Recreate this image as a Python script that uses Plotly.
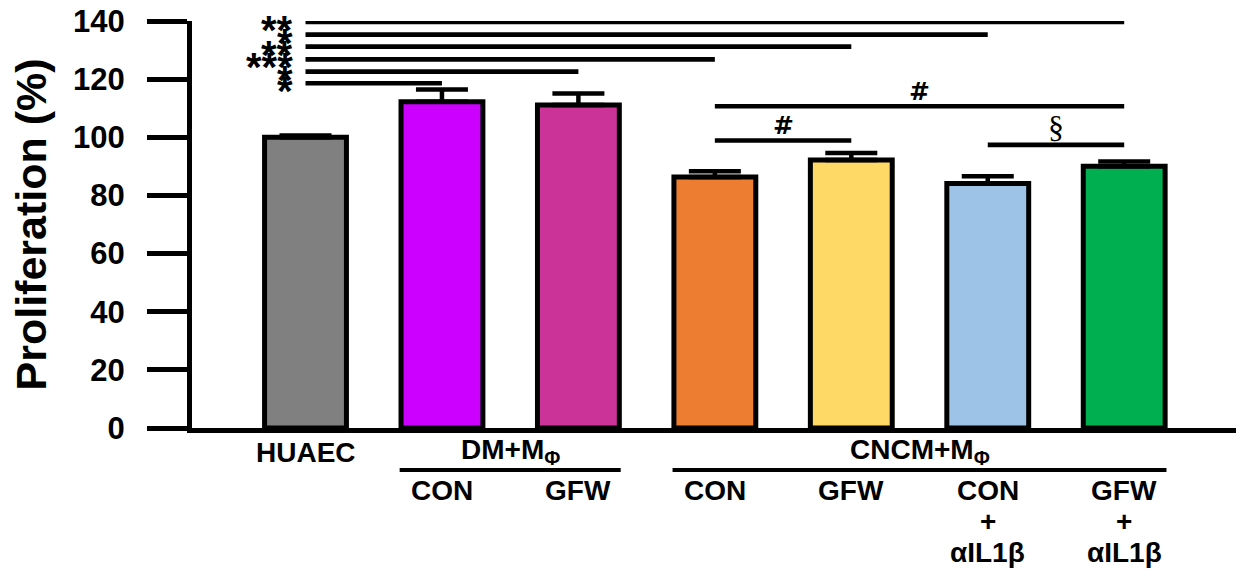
import plotly.graph_objects as go

# ---------------- data ----------------
categories = ["HUAEC", "DM+MΦ CON", "DM+MΦ GFW", "CNCM+MΦ CON", "CNCM+MΦ GFW",
              "CNCM+MΦ CON+αIL1β", "CNCM+MΦ GFW+αIL1β"]
values = [100.0, 112.2, 111.1, 86.3, 92.2, 84.1, 90.0]
errors = [0.6, 4.2, 4.0, 2.0, 2.4, 2.5, 1.7]
colors = ["#808080", "#CC00FF", "#CC3399", "#ED7D31", "#FFD966", "#9DC3E6", "#00B050"]

bottom_labels = [["HUAEC"], ["CON"], ["GFW"], ["CON"], ["GFW"],
                 ["CON", "+", "αIL1β"], ["GFW", "+", "αIL1β"]]
group_labels = ["DM+M<sub>Φ</sub>", "CNCM+M<sub>Φ</sub>"]
group_members = [[1, 2], [3, 4, 5, 6]]

y_ticks = [0, 20, 40, 60, 80, 100, 120, 140]

# significance versus HUAEC (index 0)
star_targets = [6, 5, 4, 3, 2, 1]
star_texts = ["**", "*", "**", "***", "*", "*"]
star_heights = [139.7, 135.3, 131.2, 126.8, 122.6, 118.6]

# other comparisons
pair_from = [3, 3, 5]
pair_to = [6, 4, 6]
pair_texts = ["#", "#", "§"]
pair_heights = [110.7, 98.9, 97.4]

# ---------------- layout geometry ----------------
W, H = 1236, 571
ML, MR, MT, MB = 192, 0, 21, 143
PH = H - MT - MB
FONT = "Liberation Sans, Arial, sans-serif"


def py(pix):
    """pixel y (from top) -> paper y"""
    return (H - MB - pix) / PH


fig = go.Figure()
fig.add_trace(go.Bar(
    x=categories, y=values, width=0.6,
    marker=dict(color=colors, line=dict(color="black", width=5)),
    error_y=dict(type="data", symmetric=False, array=errors,
                 arrayminus=[0] * len(errors), color="black",
                 thickness=4.5, width=26),
    showlegend=False,
))

shapes = []
annotations = []

# stars lines
for t, txt, h in zip(star_targets, star_texts, star_heights):
    shapes.append(dict(type="line", xref="x", yref="y", x0=0, x1=t, y0=h, y1=h,
                       line=dict(color="black", width=4.6)))
    annotations.append(dict(xref="x", yref="y", x=0, y=h, text=f"<b>{txt}</b>", showarrow=False,
                            xanchor="right", yanchor="middle", xshift=-11, yshift=-8,
                            font=dict(family=FONT, size=40, color="black")))

# pair lines
for a, b, txt, h in zip(pair_from, pair_to, pair_texts, pair_heights):
    shapes.append(dict(type="line", xref="x", yref="y", x0=a, x1=b, y0=h, y1=h,
                       line=dict(color="black", width=4.6)))
    if txt == "§":
        f = dict(family="Liberation Serif, Times New Roman, serif", size=32, color="black")
        ys = 18
        t = txt
    else:
        f = dict(family="DejaVu Sans, Liberation Sans, sans-serif", size=25, color="black")
        ys = 15
        t = f"<b>{txt}</b>"
    annotations.append(dict(xref="x", yref="y", x=(a + b) / 2, y=h, text=t,
                            showarrow=False, xanchor="center", yanchor="middle",
                            yshift=ys, font=f))

# bottom labels
for i, lines in enumerate(bottom_labels):
    base = 453 if i == 0 else 490
    for j, line in enumerate(lines):
        annotations.append(dict(xref="x", yref="paper", x=i, y=py(base + 31 * j),
                                text=f"<b>{line}</b>", showarrow=False,
                                xanchor="center", yanchor="middle",
                                font=dict(family=FONT, size=28, color="black")))

# group labels and lines
for lab, mem in zip(group_labels, group_members):
    annotations.append(dict(xref="x", yref="paper", x=(mem[0] + mem[-1]) / 2, y=py(451),
                            text=f"<b>{lab}</b>", showarrow=False,
                            xanchor="center", yanchor="middle",
                            font=dict(family=FONT, size=28, color="black")))
    shapes.append(dict(type="line", xref="x", yref="paper",
                       x0=mem[0] - 0.31, x1=mem[-1] + 0.31, y0=py(470), y1=py(470),
                       line=dict(color="black", width=4)))

# y title
annotations.append(dict(xref="paper", yref="paper", x=(30 - ML) / (W - ML - MR), y=0.5,
                        text="<b>Proliferation (%)</b>", textangle=-90, showarrow=False,
                        xanchor="center", yanchor="middle",
                        font=dict(family=FONT, size=43, color="black")))

spacing = 136.45
x0_off = 305.5 - ML
xr0 = -x0_off / spacing
xr1 = xr0 + (W - ML - MR) / spacing

fig.update_layout(
    width=W, height=H,
    margin=dict(l=ML, r=MR, t=MT, b=MB, pad=0),
    plot_bgcolor="white", paper_bgcolor="white",
    shapes=shapes, annotations=annotations,
    bargap=0.4,
    xaxis=dict(range=[xr0, xr1], showticklabels=False, ticks="", showgrid=False,
               zeroline=False, showline=True, linecolor="black", linewidth=5,
               fixedrange=True),
    yaxis=dict(range=[0, 140], tickvals=y_ticks, ticks="outside", ticklen=40,
               tickwidth=4.5, tickcolor="black", showgrid=False, zeroline=False,
               showline=True, linecolor="black", linewidth=5,
               tickfont=dict(family=FONT, size=31, color="black", weight="bold"),
               ticklabelstandoff=16, fixedrange=True),
)

fig.write_html("out.html", config={"displayModeBar": False},
               post_script="document.body.style.margin='0px';document.body.style.overflow='hidden';")
